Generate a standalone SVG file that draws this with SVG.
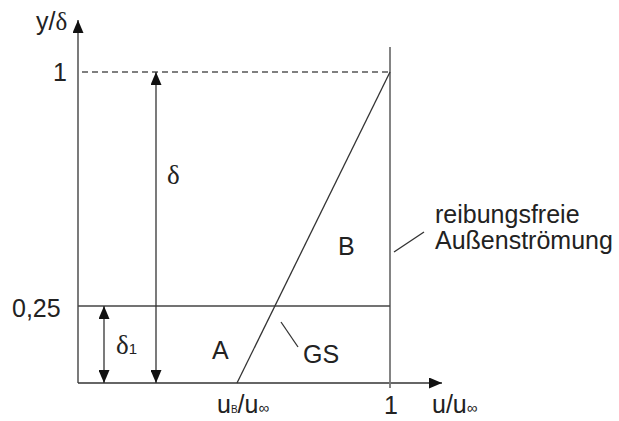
<svg xmlns="http://www.w3.org/2000/svg" width="619" height="421" viewBox="0 0 619 421">
<defs>
<style>
.t{font-family:"Liberation Sans",Arial,sans-serif;font-size:25px;fill:#222}
.g{font-family:"Liberation Serif","Times New Roman",serif;font-size:27px;fill:#222}
.ln{stroke:#333;stroke-width:1.3;fill:none}
</style>
<marker id="ahs" viewBox="0 0 13 11" refX="13" refY="5.5" markerWidth="13" markerHeight="11" markerUnits="userSpaceOnUse" orient="auto-start-reverse">
<path d="M0,0 L13,5.5 L0,11 Z" fill="#111"/>
</marker>
</defs>
<rect width="619" height="421" fill="#fff"/>
<g id="connectors">
<line class="ln" x1="78" y1="383" x2="78" y2="20" marker-end="url(#ahs)"/>
<line class="ln" x1="78" y1="383" x2="442" y2="383" marker-end="url(#ahs)"/>
<line x1="82" y1="72" x2="390" y2="72" stroke="#555" stroke-width="1.3" stroke-dasharray="6,4"/>
<line x1="390" y1="47" x2="390" y2="388" stroke="#777" stroke-width="1.8"/>
<line x1="78" y1="306" x2="390" y2="306" stroke="#444" stroke-width="1.3"/>
<line class="ln" x1="237" y1="383" x2="390" y2="72"/>
<line class="ln" x1="156" y1="72" x2="156" y2="383" marker-start="url(#ahs)" marker-end="url(#ahs)"/>
<line class="ln" x1="104" y1="306" x2="104" y2="383" marker-start="url(#ahs)" marker-end="url(#ahs)"/>
<line class="ln" x1="281" y1="322" x2="298" y2="347"/>
<line class="ln" x1="394" y1="252" x2="424" y2="232"/>
</g>
<g id="labels">
<text class="t" x="36" y="30">y/<tspan font-family="Liberation Serif, serif">δ</tspan></text>
<text class="t" x="53" y="81">1</text>
<text class="t" x="12" y="317">0,25</text>
<text class="g" x="167" y="184">δ</text>
<text class="g" x="116" y="354">δ<tspan font-family="Liberation Sans, sans-serif" font-size="15">1</tspan></text>
<text class="t" x="212" y="359">A</text>
<text class="t" x="338" y="255">B</text>
<text class="t" x="303" y="363">GS</text>
<text class="t" x="435" y="223">reibungsfreie</text>
<text class="t" x="435" y="249">Außenströmung</text>
<text class="t" x="217" y="413">u<tspan font-size="10">B</tspan>/u<tspan font-size="15">∞</tspan></text>
<text class="t" x="384" y="414">1</text>
<text class="t" x="432" y="413">u/u<tspan font-size="15">∞</tspan></text>
</g>
</svg>
